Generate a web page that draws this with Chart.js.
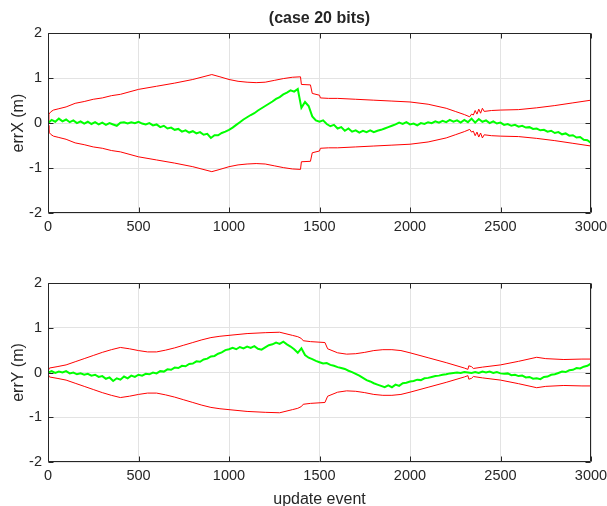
<!DOCTYPE html>
<html>
<head>
<meta charset="utf-8">
<title>case 20 bits</title>
<script src="https://cdn.jsdelivr.net/npm/chart.js@4.4.0/dist/chart.umd.min.js"></script>
<style>
  html, body { margin: 0; padding: 0; background: #fff; overflow: hidden; }
  #errXChart { position: absolute; left: 0; top: 0; }
  #errYChart { position: absolute; left: 0; top: 250px; }
</style>
</head>
<body>
<canvas id="errXChart" width="607" height="245"></canvas>
<canvas id="errYChart" width="607" height="262"></canvas>
<script>
// green error traces, one sample every 20 update events (plus the last jump at 3000)
const sampleEvents = Array.from({ length: 151 }, (_, i) => i * 20).concat([3000]);

const errX = [
  0.00, 0.07, 0.03, 0.10, 0.04, 0.08, 0.02, 0.06, 0.00, 0.04,
  -0.01, 0.03, -0.02, 0.02, -0.03, 0.01, -0.04, 0.00, -0.03, -0.06,
  0.01, 0.02, -0.01, 0.02, 0.00, 0.03, -0.01, -0.03, 0.00, -0.05,
  -0.03, -0.09, -0.06, -0.12, -0.10, -0.15, -0.13, -0.19, -0.16, -0.21,
  -0.18, -0.23, -0.20, -0.26, -0.24, -0.33, -0.27, -0.27, -0.22, -0.19,
  -0.15, -0.10, -0.04, 0.02, 0.08, 0.13, 0.18, 0.22, 0.28, 0.33,
  0.38, 0.43, 0.48, 0.54, 0.58, 0.64, 0.68, 0.73, 0.70, 0.76,
  0.34, 0.47, 0.38, 0.15, 0.06, 0.03, 0.06, -0.02, -0.07, -0.04,
  -0.12, -0.09, -0.17, -0.12, -0.19, -0.16, -0.21, -0.17, -0.20, -0.16,
  -0.20, -0.17, -0.15, -0.12, -0.09, -0.06, -0.03, 0.01, -0.02, 0.02,
  -0.03, -0.01, -0.05, 0.00, -0.02, 0.02, 0.00, 0.04, 0.01, 0.05,
  0.02, 0.07, 0.03, 0.06, 0.01, 0.07, 0.02, 0.10, 0.01, 0.09,
  0.03, 0.06, 0.00, 0.04, -0.01, 0.01, -0.04, -0.02, -0.06, -0.04,
  -0.08, -0.06, -0.10, -0.09, -0.13, -0.12, -0.16, -0.15, -0.19, -0.17,
  -0.22, -0.20, -0.25, -0.23, -0.28, -0.27, -0.32, -0.31, -0.37, -0.38,
  -0.44, 0.00
];

const errY = [
  0.00, 0.03, -0.01, 0.02, 0.00, 0.03, -0.02, 0.00, -0.04, -0.02,
  -0.05, -0.03, -0.07, -0.05, -0.10, -0.08, -0.14, -0.11, -0.19, -0.13,
  -0.16, -0.09, -0.13, -0.07, -0.10, -0.05, -0.07, -0.03, -0.04, 0.00,
  -0.02, 0.03, 0.02, 0.07, 0.06, 0.11, 0.10, 0.15, 0.14, 0.19,
  0.20, 0.25, 0.24, 0.29, 0.31, 0.36, 0.37, 0.42, 0.45, 0.50,
  0.52, 0.55, 0.52, 0.57, 0.54, 0.58, 0.55, 0.59, 0.53, 0.51,
  0.56, 0.61, 0.63, 0.67, 0.64, 0.69, 0.63, 0.58, 0.52, 0.44,
  0.54, 0.39, 0.33, 0.30, 0.26, 0.23, 0.20, 0.21, 0.17, 0.15,
  0.12, 0.10, 0.08, 0.04, 0.01, -0.03, -0.07, -0.12, -0.17, -0.20,
  -0.24, -0.27, -0.30, -0.33, -0.29, -0.33, -0.27, -0.30, -0.24, -0.23,
  -0.20, -0.19, -0.16, -0.17, -0.13, -0.12, -0.10, -0.08, -0.07, -0.05,
  -0.04, -0.02, -0.01, 0.00, -0.01, 0.01, 0.00, -0.01, 0.01, -0.01,
  0.02, 0.00, 0.02, -0.01, 0.01, -0.02, -0.03, -0.02, -0.06, -0.05,
  -0.08, -0.07, -0.11, -0.10, -0.14, -0.13, -0.15, -0.10, -0.09, -0.05,
  -0.04, -0.01, 0.02, 0.01, 0.05, 0.06, 0.10, 0.09, 0.13, 0.15,
  0.20, 0.04
];

// red envelopes (drawn as +bound and -bound)
const xBoundEvents = [0, 5, 15, 30, 60, 100, 150, 200, 250, 300, 350, 400, 500, 600, 700, 800, 905,
  950, 1000, 1050, 1100, 1150, 1200, 1250, 1300, 1350, 1395, 1400, 1450, 1460, 1500, 1505, 1550,
  1600, 1700, 1800, 1900, 2000, 2100, 2200, 2250, 2300, 2330, 2340, 2350, 2360, 2370, 2380, 2390,
  2400, 2410, 2450, 2500, 2600, 2700, 2800, 2900, 3000];
const xBound = [0.05, 0.20, 0.25, 0.29, 0.32, 0.36, 0.44, 0.48, 0.53, 0.56, 0.61, 0.64, 0.75, 0.82,
  0.89, 0.97, 1.08, 1.03, 0.97, 0.93, 0.91, 0.90, 0.91, 0.95, 0.99, 1.02, 1.03, 0.86, 0.85, 0.66,
  0.62, 0.56, 0.55, 0.55, 0.53, 0.51, 0.49, 0.47, 0.42, 0.33, 0.26, 0.19, 0.14, 0.20, 0.18, 0.28,
  0.20, 0.31, 0.22, 0.33, 0.26, 0.28, 0.29, 0.30, 0.34, 0.39, 0.45, 0.51];

const yBoundEvents = [0, 8, 50, 100, 150, 200, 250, 300, 350, 400, 450, 500, 550, 600, 650, 700, 750,
  800, 850, 900, 950, 1000, 1100, 1200, 1280, 1350, 1380, 1400, 1410, 1450, 1530, 1545, 1600, 1650,
  1700, 1750, 1800, 1850, 1900, 1950, 2000, 2100, 2200, 2300, 2320, 2325, 2340, 2350, 2400, 2500,
  2600, 2700, 2750, 2850, 2950, 3000];
const yBound = [0.03, 0.10, 0.13, 0.17, 0.24, 0.31, 0.38, 0.45, 0.51, 0.56, 0.53, 0.49, 0.46, 0.46,
  0.50, 0.55, 0.61, 0.67, 0.73, 0.78, 0.81, 0.83, 0.87, 0.89, 0.90, 0.83, 0.80, 0.76, 0.71, 0.69,
  0.67, 0.53, 0.44, 0.41, 0.42, 0.45, 0.49, 0.51, 0.51, 0.49, 0.44, 0.33, 0.22, 0.10, 0.07, 0.15,
  0.13, 0.09, 0.12, 0.17, 0.25, 0.34, 0.31, 0.29, 0.30, 0.30];

const xTicks = [0, 500, 1000, 1500, 2000, 2500, 3000];
const yTicks = [-2, -1, 0, 1, 2];

const FONT = '"Liberation Sans", Arial, Helvetica, sans-serif';
const INK = '#262626';
const GRID = '#e3e3e3';

const pts = (xs, ys) => ys.map((v, i) => ({ x: xs[i], y: v }));

// matlab-like box with inward ticks on all four sides
const frame = {
  id: 'frame',
  afterDatasetsDraw(chart) {
    const { ctx, chartArea: a, scales: { x, y } } = chart;
    const L = Math.round(a.left) + 0.5, R = Math.round(a.right) - 0.5;
    const T = Math.round(a.top) + 0.5, B = Math.round(a.bottom) - 0.5;
    ctx.save();
    ctx.strokeStyle = INK;
    ctx.lineWidth = 1;
    ctx.beginPath();
    xTicks.forEach((v) => {
      const p = Math.round(x.getPixelForValue(v)) + 0.5;
      ctx.moveTo(p, B); ctx.lineTo(p, B - 5);
      ctx.moveTo(p, T); ctx.lineTo(p, T + 5);
    });
    yTicks.forEach((v) => {
      const p = Math.round(y.getPixelForValue(v)) + 0.5;
      ctx.moveTo(L, p); ctx.lineTo(L + 5, p);
      ctx.moveTo(R, p); ctx.lineTo(R - 5, p);
    });
    ctx.rect(L, T, R - L, B - T);
    ctx.stroke();
    ctx.restore();
  }
};

function makeChart(id, err, bEvents, bound, yLabel, opts) {
  const line = { pointRadius: 0, tension: 0, fill: false };
  return new Chart(document.getElementById(id), {
    type: 'line',
    data: {
      datasets: [
        { ...line, data: pts(sampleEvents, err), borderColor: '#00ff00', borderWidth: 2, order: 0 },
        { ...line, data: pts(bEvents, bound), borderColor: '#ff0000', borderWidth: 1, order: 1 },
        { ...line, data: pts(bEvents, bound.map((v) => -v)), borderColor: '#ff0000', borderWidth: 1, order: 1 },
      ],
    },
    options: {
      responsive: false,
      animation: false,
      devicePixelRatio: 1,
      layout: { padding: { top: opts.padTop, right: 16, left: 0, bottom: 0 } },
      plugins: {
        legend: { display: false },
        tooltip: { enabled: false },
        title: opts.title
          ? {
              display: true,
              text: opts.title,
              fullSize: false,
              color: INK,
              font: { family: FONT, size: 16, weight: 'bold', lineHeight: 1.2 },
              padding: { top: 9, bottom: 5 },
            }
          : { display: false },
      },
      scales: {
        x: {
          type: 'linear',
          min: 0,
          max: 3000,
          afterBuildTicks: (s) => { s.ticks = xTicks.map((v) => ({ value: v })); },
          afterFit: (s) => {
            s.height = opts.xHeight;
            s.paddingLeft = 0;
            s.paddingRight = 0;
          },
          ticks: {
            color: INK,
            font: { family: FONT, size: 14.5 },
            padding: 5,
            maxRotation: 0,
            autoSkip: false,
            callback: (v) => String(v),
          },
          grid: { color: GRID, drawTicks: false },
          border: { display: false },
          title: opts.xTitle
            ? {
                display: true,
                text: opts.xTitle,
                color: INK,
                font: { family: FONT, size: 16 },
                padding: { top: 0, bottom: 3 },
              }
            : { display: false },
        },
        y: {
          min: -2,
          max: 2,
          afterBuildTicks: (s) => { s.ticks = yTicks.map((v) => ({ value: v })); },
          afterFit: (s) => { s.width = 48; },
          ticks: {
            color: INK,
            font: { family: FONT, size: 14.5 },
            padding: 6,
            callback: (v) => String(v),
          },
          grid: { color: GRID, drawTicks: false },
          border: { display: false },
          title: {
            display: true,
            text: yLabel,
            color: INK,
            font: { family: FONT, size: 16 },
            padding: { top: 9, bottom: 0 },
          },
        },
      },
    },
    plugins: [frame],
  });
}

makeChart('errXChart', errX, xBoundEvents, xBound, 'errX (m)', {
  title: '(case 20 bits)', padTop: 0, xHeight: 32,
});
makeChart('errYChart', errY, yBoundEvents, yBound, 'errY (m)', {
  padTop: 33, xHeight: 50, xTitle: 'update event',
});
</script>
</body>
</html>
